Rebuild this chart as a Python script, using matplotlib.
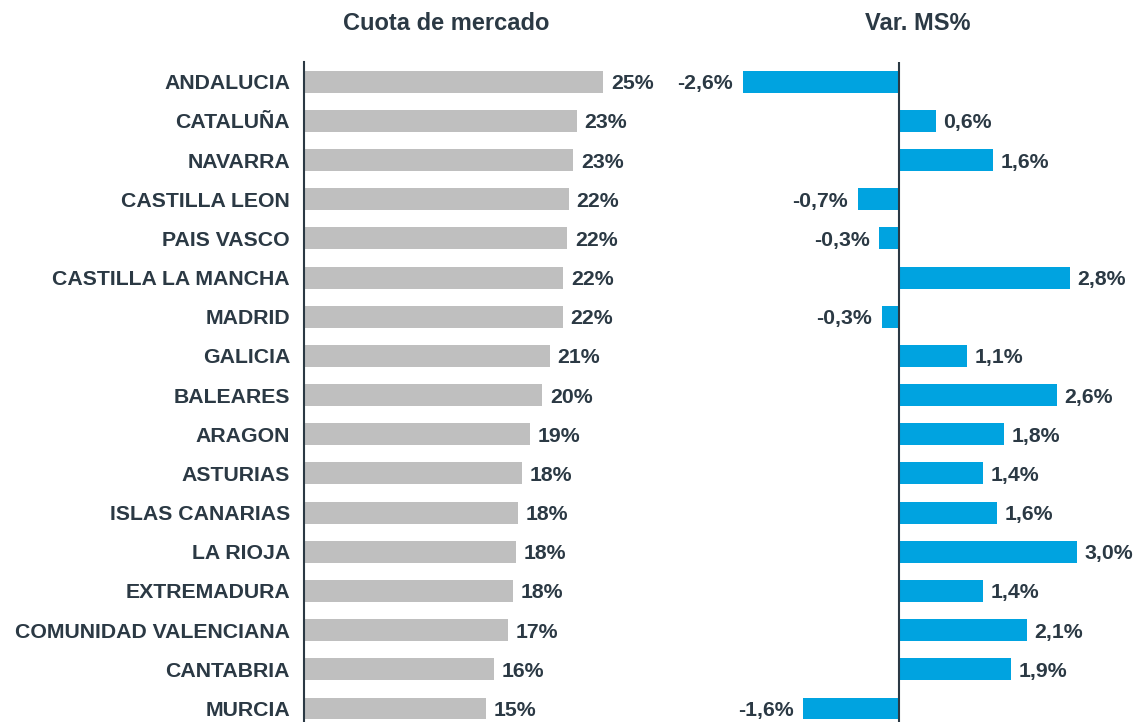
import matplotlib
matplotlib.use("Agg")
import matplotlib.pyplot as plt

regions = ["ANDALUCIA", "CATALUÑA", "NAVARRA", "CASTILLA LEON", "PAIS VASCO",
           "CASTILLA LA MANCHA", "MADRID", "GALICIA", "BALEARES", "ARAGON",
           "ASTURIAS", "ISLAS CANARIAS", "LA RIOJA", "EXTREMADURA",
           "COMUNIDAD VALENCIANA", "CANTABRIA", "MURCIA"]
market_share = [25.0, 22.8, 22.5, 22.14, 22.0, 21.67, 21.64, 20.55, 19.9, 18.9,
                18.24, 17.85, 17.74, 17.46, 17.02, 15.85, 15.2]
share_labels = ["25%", "23%", "23%", "22%", "22%", "22%", "22%", "21%", "20%", "19%",
                "18%", "18%", "18%", "18%", "17%", "16%", "15%"]
var_ms = [-2.6, 0.62, 1.57, -0.68, -0.32, 2.86, -0.28, 1.14, 2.64, 1.76,
          1.41, 1.64, 2.97, 1.40, 2.14, 1.88, -1.59]
var_labels = ["-2,6%", "0,6%", "1,6%", "-0,7%", "-0,3%", "2,8%", "-0,3%", "1,1%", "2,6%", "1,8%",
              "1,4%", "1,6%", "3,0%", "1,4%", "2,1%", "1,9%", "-1,6%"]
titles = ["Cuota de mercado", "Var. MS%"]

W, H = 1135, 722
TXT = "#2B3944"
GRAY = "#BFBFBF"
BLUE = "#00A3E0"
FONT = "Liberation Sans"
FS = 15.3
FT = 17

fig = plt.figure(figsize=(W / 100, H / 100), dpi=100)

def px_axes(x0, x1, y0, y1):
    return fig.add_axes([x0 / W, 1 - y1 / H, (x1 - x0) / W, (y1 - y0) / H])

ypos = list(range(len(regions)))
ylim = (16.345, -0.503)

# Left panel
axL = px_axes(304, 304 + 28 * 11.97, 62, 722)
axL.barh(ypos, market_share, height=0.56, color=GRAY)
axL.set_xlim(0, 28)
axL.set_ylim(*ylim)
axL.set_yticks(ypos)
axL.set_yticklabels(regions, fontsize=FS, fontweight="bold", color=TXT, family=FONT)
axL.tick_params(axis="y", length=0, pad=10)
axL.set_xticks([])
for s in ["top", "right", "bottom"]:
    axL.spines[s].set_visible(False)
axL.spines["left"].set_color(TXT)
axL.spines["left"].set_linewidth(1.5)
for y, v, lab in zip(ypos, market_share, share_labels):
    axL.annotate(lab, (v, y), xytext=(5.5, 0), textcoords="offset points",
                 ha="left", va="center_baseline", fontsize=FS, fontweight="bold",
                 color=TXT, family=FONT, annotation_clip=False)

# Right panel
Z = 898.5
axR = px_axes(Z - 3.5 * 60, Z + 3.5 * 60, 62, 722)
axR.barh(ypos, var_ms, height=0.56, color=BLUE)
axR.set_xlim(-3.5, 3.5)
axR.set_ylim(*ylim)
axR.set_xticks([])
axR.set_yticks([])
for s in ["top", "right", "bottom", "left"]:
    axR.spines[s].set_visible(False)
axR.axvline(0, color=TXT, linewidth=1.5)
for y, v, lab in zip(ypos, var_ms, var_labels):
    off = 5.5 if v >= 0 else -7
    axR.annotate(lab, (v, y), xytext=(off, 0), textcoords="offset points",
                 ha="left" if v >= 0 else "right", va="center_baseline", fontsize=FS,
                 fontweight="bold", color=TXT, family=FONT, annotation_clip=False)

fig.text(446 / W, 1 - 24 / H, titles[0], ha="center", va="center", fontsize=FT,
         fontweight="bold", color=TXT, family=FONT)
fig.text(918 / W, 1 - 24 / H, titles[1], ha="center", va="center", fontsize=FT,
         fontweight="bold", color=TXT, family=FONT)

fig.savefig("out.png", dpi=100, facecolor="white")
